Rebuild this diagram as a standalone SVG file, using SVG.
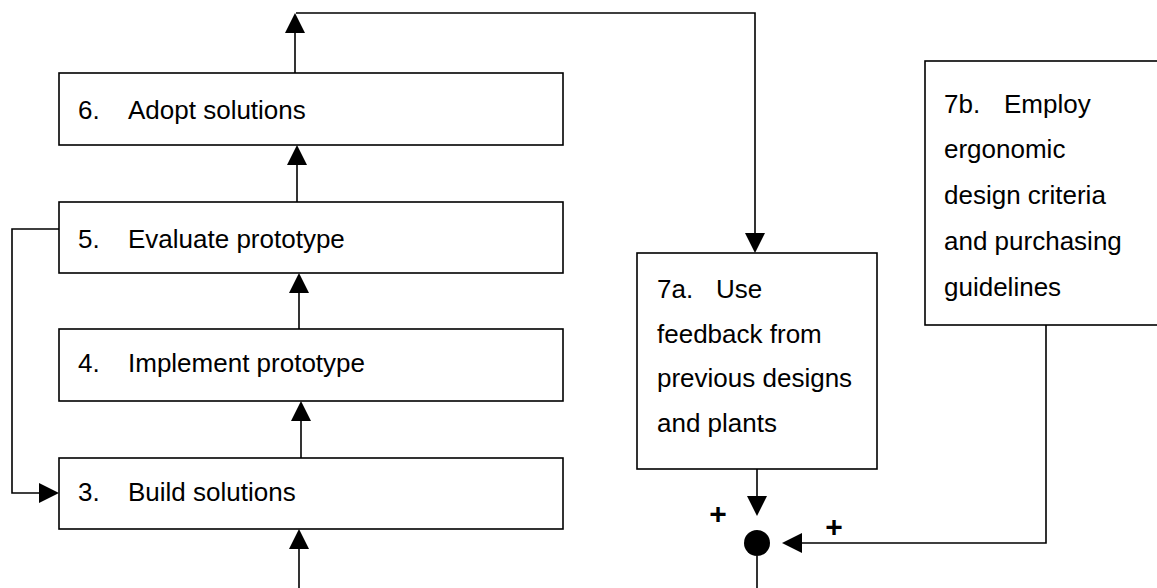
<svg xmlns="http://www.w3.org/2000/svg" width="1157" height="588" viewBox="0 0 1157 588">
<style>
.box{fill:#fff;stroke:#000;stroke-width:1.6}
.t{font-family:"Liberation Sans",Arial,sans-serif;font-size:26px;fill:#000}
.plus{font-family:"Liberation Sans",Arial,sans-serif;font-size:30px;font-weight:bold;fill:#000;text-anchor:middle}
.ln{fill:none;stroke:#000;stroke-width:1.6}
.ah{fill:#000}
</style>
<rect width="1157" height="588" fill="#fff"/>
<g id="connectors">
<polyline class="ln" points="295,73 295,30"/>
<polygon class="ah" points="295,13 285,33 305,33"/>
<polyline class="ln" points="296,13 755,13 755,235"/>
<polygon class="ah" points="755,253 745,233 765,233"/>
<line class="ln" x1="297" y1="202" x2="297" y2="160"/>
<polygon class="ah" points="297,145 287,165 307,165"/>
<line class="ln" x1="299" y1="329" x2="299" y2="288"/>
<polygon class="ah" points="299,273 289,293 309,293"/>
<line class="ln" x1="301" y1="458" x2="301" y2="416"/>
<polygon class="ah" points="301,401 291,421 311,421"/>
<line class="ln" x1="299" y1="588" x2="299" y2="544"/>
<polygon class="ah" points="299,529 289,549 309,549"/>
<polyline class="ln" points="59,229 12,229 12,493 44,493"/>
<polygon class="ah" points="59,493 39,483 39,503"/>
<line class="ln" x1="757" y1="469" x2="757" y2="500"/>
<polygon class="ah" points="757,516 747,496 767,496"/>
<polyline class="ln" points="1046,325 1046,543 797,543"/>
<polygon class="ah" points="782,543 802,533 802,553"/>
<circle cx="757" cy="543" r="13" fill="#000"/>
<line class="ln" x1="757" y1="556" x2="757" y2="588"/>
<text class="plus" x="718" y="524">+</text>
<text class="plus" x="834" y="537">+</text>
</g>
<g id="n6">
<rect class="box" x="59" y="73" width="504" height="72"/>
<text class="t" x="78" y="119">6.</text><text class="t" x="128" y="119">Adopt solutions</text>
</g>
<g id="n5">
<rect class="box" x="59" y="202" width="504" height="71"/>
<text class="t" x="78" y="248">5.</text><text class="t" x="128" y="248">Evaluate prototype</text>
</g>
<g id="n4">
<rect class="box" x="59" y="329" width="504" height="72"/>
<text class="t" x="78" y="372">4.</text><text class="t" x="128" y="372">Implement prototype</text>
</g>
<g id="n3">
<rect class="box" x="59" y="458" width="504" height="71"/>
<text class="t" x="78" y="501">3.</text><text class="t" x="128" y="501">Build solutions</text>
</g>
<g id="n7a">
<rect class="box" x="637" y="253" width="240" height="216"/>
<text class="t" x="657" y="298">7a.</text><text class="t" x="716" y="298">Use</text>
<text class="t" x="657" y="343">feedback from</text>
<text class="t" x="657" y="387">previous designs</text>
<text class="t" x="657" y="432">and plants</text>
</g>
<g id="n7b">
<rect class="box" x="925" y="61" width="240" height="264"/>
<text class="t" x="944" y="113">7b.</text><text class="t" x="1004" y="113">Employ</text>
<text class="t" x="944" y="158">ergonomic</text>
<text class="t" x="944" y="204">design criteria</text>
<text class="t" x="944" y="250">and purchasing</text>
<text class="t" x="944" y="296">guidelines</text>
</g>
</svg>
